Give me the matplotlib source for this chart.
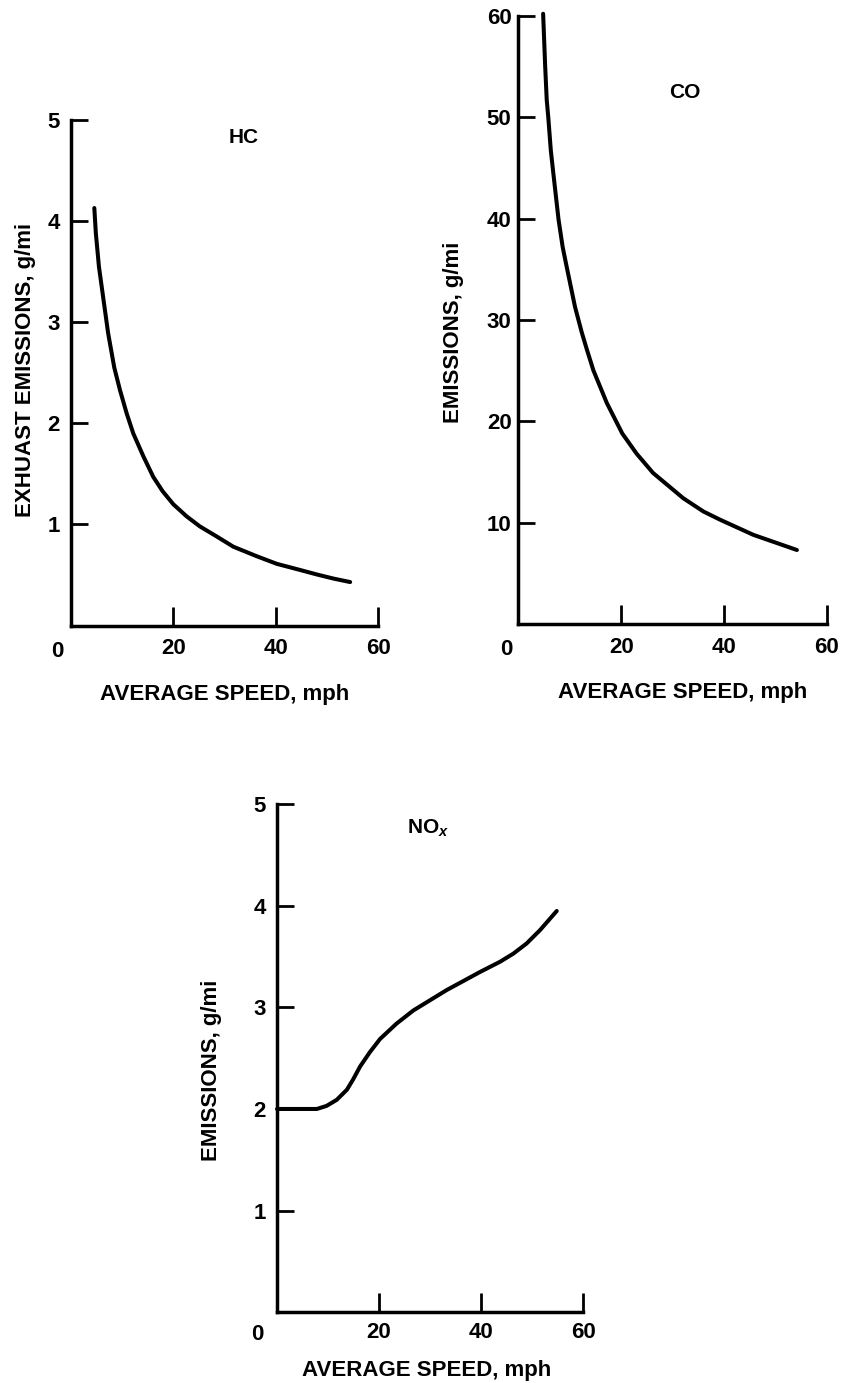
import matplotlib
matplotlib.use('Agg')
import matplotlib.pyplot as plt

plt.rcParams['font.family'] = ['Liberation Sans', 'DejaVu Sans']
plt.rcParams['font.weight'] = 'bold'
plt.rcParams['axes.labelweight'] = 'bold'
plt.rcParams['mathtext.fontset'] = 'custom'
plt.rcParams['mathtext.rm'] = 'Liberation Sans:bold'
plt.rcParams['mathtext.it'] = 'Liberation Sans:italic:bold'

# valores
hc_velocidad = [4.6, 4.9, 5.5, 6.4, 7.3, 8.5, 9.6, 10.9, 12.2, 14.2, 16.1, 17.9, 20.0, 22.6,
                25.2, 28.5, 31.7, 36.3, 40.2, 44.7, 48.0, 51.2, 54.5]
hc_emision = [4.13, 3.88, 3.55, 3.22, 2.89, 2.55, 2.33, 2.10, 1.90, 1.67, 1.47, 1.33, 1.20, 1.08,
              0.98, 0.88, 0.78, 0.685, 0.61, 0.55, 0.505, 0.465, 0.43]

co_velocidad = [4.8, 5.0, 5.2, 5.5, 5.8, 6.3, 6.8, 7.8, 8.6, 9.4, 11.0, 12.3, 13.3, 14.6,
                17.2, 20.2, 23.0, 26.2, 32.1, 36.0, 39.2, 45.7, 54.2]
co_emision = [60.2, 57.6, 55.0, 51.7, 50.0, 46.7, 44.4, 39.9, 37.2, 35.2, 31.3, 28.8, 27.1, 25.0,
              21.8, 18.8, 16.8, 14.9, 12.4, 11.1, 10.3, 8.8, 7.3]

nox_velocidad = [0, 7.8, 9.7, 11.7, 13.7, 14.9, 16.3, 18.2, 20.2, 23.4, 26.7, 33.2, 39.8,
                 43.7, 46.3, 48.9, 51.5, 54.8]
nox_emision = [2.0, 2.0, 2.03, 2.09, 2.19, 2.29, 2.42, 2.56, 2.69, 2.84, 2.97, 3.17, 3.35,
               3.45, 3.53, 3.63, 3.76, 3.95]

x_ticks = [20, 40, 60]
hc_yticks = [1, 2, 3, 4, 5]
co_yticks = [10, 20, 30, 40, 50, 60]
nox_yticks = [1, 2, 3, 4, 5]

fig = plt.figure(figsize=(8.44, 13.83), dpi=100)


def preparar(rect, ymax, yticks, ypad):
    ax = fig.add_axes(rect)
    ax.set_xlim(0, 60)
    ax.set_ylim(0, ymax)
    for lado in ['top', 'right']:
        ax.spines[lado].set_visible(False)
    for lado in ['left', 'bottom']:
        ax.spines[lado].set_linewidth(2.5)
    ax.set_xticks(x_ticks)
    ax.set_yticks(yticks)
    ax.tick_params(axis='x', direction='in', length=14, width=2, pad=9, labelsize=16)
    ax.tick_params(axis='y', direction='in', length=12, width=2, pad=ypad, labelsize=16)
    return ax


# HC
ax1 = preparar([0.0838, 0.5477, 0.3645, 0.3655], 5, hc_yticks, 8)
ax1.plot(hc_velocidad, hc_emision, color='black', lw=2.9, solid_capstyle='round',
         solid_joinstyle='round', clip_on=False)
ax1.text(33.8, 4.775, 'HC', ha='center', va='baseline', fontsize=15)
ax1.text(-0.0445, -0.0297, '0', transform=ax1.transAxes, ha='center', va='top', fontsize=16)
ax1.set_xlabel('AVERAGE SPEED, mph', fontsize=16)
ax1.xaxis.set_label_coords(0.5, -0.1157)
ax1.set_ylabel('EXHUAST EMISSIONS, g/mi', fontsize=16)
ax1.yaxis.set_label_coords(-0.1144, 0.505)

# CO
ax2 = preparar([0.6143, 0.5488, 0.3652, 0.4398], 60, co_yticks, 5)
ax2.plot(co_velocidad, co_emision, color='black', lw=2.9, solid_capstyle='round',
         solid_joinstyle='round', clip_on=False)
ax2.text(32.4, 51.9, 'CO', ha='center', va='baseline', fontsize=15)
ax2.text(-0.0406, -0.025, '0', transform=ax2.transAxes, ha='center', va='top', fontsize=16)
ax2.set_xlabel('AVERAGE SPEED, mph', fontsize=16)
ax2.xaxis.set_label_coords(0.532, -0.0953)
ax2.set_ylabel('EMISSIONS, g/mi', fontsize=16)
ax2.yaxis.set_label_coords(-0.178, 0.48)

# NOx
ax3 = preparar([0.3282, 0.0513, 0.3629, 0.3671], 5, nox_yticks, 8)
ax3.tick_params(axis='x', pad=7)
ax3.plot(nox_velocidad, nox_emision, color='black', lw=2.9, solid_capstyle='round',
         solid_joinstyle='round', clip_on=False)
ax3.text(29.5, 4.71, r'NO$_x$', ha='center', va='baseline', fontsize=15)
ax3.text(-0.0643, -0.024, '0', transform=ax3.transAxes, ha='center', va='top', fontsize=16)
ax3.set_xlabel('AVERAGE SPEED, mph', fontsize=16)
ax3.xaxis.set_label_coords(0.489, -0.0945)
ax3.set_ylabel('EMISSIONS, g/mi', fontsize=16)
ax3.yaxis.set_label_coords(-0.18, 0.477)

fig.savefig('out.png', dpi=100, facecolor='white')
